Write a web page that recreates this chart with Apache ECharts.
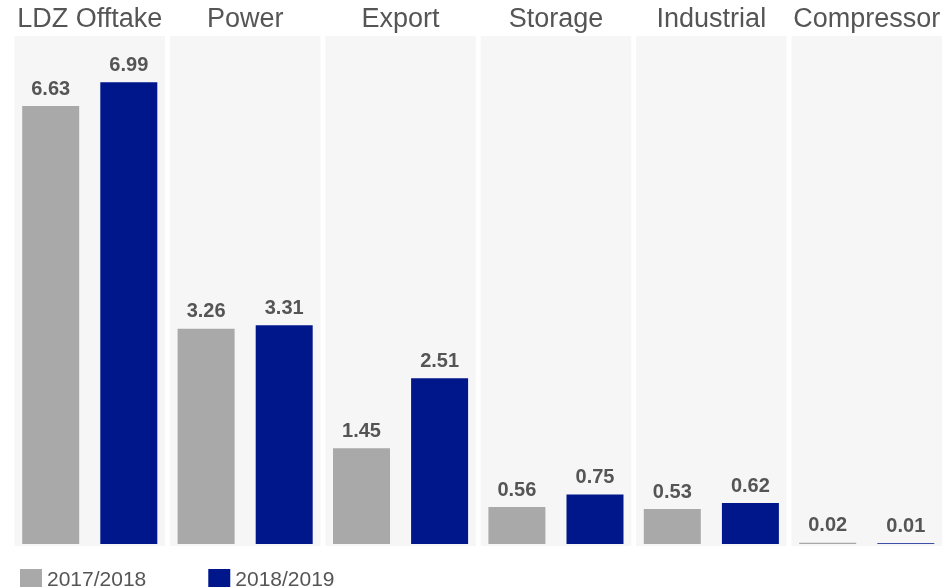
<!DOCTYPE html>
<html>
<head>
<meta charset="utf-8">
<script src="https://cdn.jsdelivr.net/npm/echarts@6/dist/echarts.min.js"></script>
<style>
html,body{margin:0;padding:0;background:#fff;}
#chart{width:947px;height:587px;}
</style>
</head>
<body>
<div id="chart"></div>
<script>
const categories = ['LDZ Offtake', 'Power', 'Export', 'Storage', 'Industrial', 'Compressor'];
const seriesNames = ['2017/2018', '2018/2019'];
const values2017 = [6.63, 3.26, 1.45, 0.56, 0.53, 0.02];
const values2018 = [6.99, 3.31, 2.51, 0.75, 0.62, 0.01];

const colors = ['#a9a9a9', '#00178c'];
const textColor = '#555555';
const font = 'Liberation Sans, Arial, sans-serif';

const grids = [], xAxes = [], yAxes = [], series = [];
categories.forEach((cat, i) => {
  grids.push({
    left: 14.5 + i * 155.4, width: 150.5, top: 36, height: 510,
    show: true, backgroundColor: '#f6f6f6', borderWidth: 0
  });
  xAxes.push({
    type: 'category', gridIndex: i, data: [cat], position: 'top',
    axisLine: {show: false}, axisTick: {show: false},
    axisLabel: {fontSize: 27, color: textColor, fontFamily: font, margin: 3, interval: 0}
  });
  yAxes.push({
    type: 'value', gridIndex: i, min: -0.03, max: 7.69, show: false,
    splitLine: {show: false}
  });
  [values2017, values2018].forEach((vals, k) => {
    series.push({
      type: 'bar', name: seriesNames[k], xAxisIndex: i, yAxisIndex: i,
      data: [vals[i]], barWidth: 57, barGap: '37%',
      itemStyle: {color: colors[k]},
      label: {show: true, position: 'top', distance: 7, fontSize: 20, fontWeight: 'bold',
        color: textColor, fontFamily: font, formatter: p => p.value.toFixed(2)},
      animation: false
    });
  });
});

const chart = echarts.init(document.getElementById('chart'));
chart.setOption({
  animation: false,
  grid: grids, xAxis: xAxes, yAxis: yAxes, series: series,
  legend: {
    data: seriesNames, left: 15, top: 564, itemWidth: 22, itemHeight: 22, itemGap: 62,
    icon: 'rect', selectedMode: false,
    textStyle: {fontSize: 21, color: textColor, fontFamily: font}
  }
});
</script>
</body>
</html>
